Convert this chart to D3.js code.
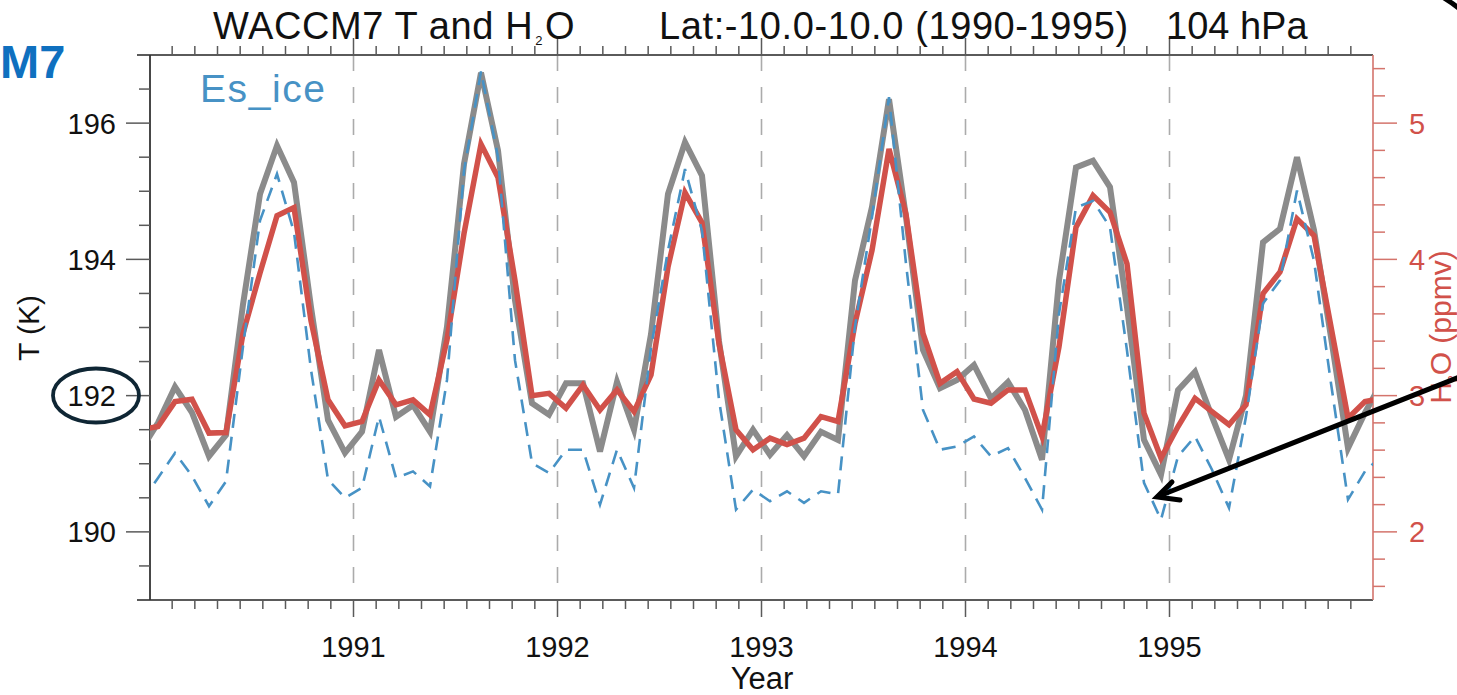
<!DOCTYPE html>
<html>
<head>
<meta charset="utf-8">
<script src="https://cdn.jsdelivr.net/npm/d3@7"></script>
<style>
  html, body { margin: 0; padding: 0; background: #fff; }
  svg { display: block; font-family: "Liberation Sans", Arial, Helvetica, sans-serif; }
</style>
</head>
<body>
<svg id="chart" width="1457" height="695"></svg>
<script>
// ===== monthly series, Dec 1989 .. Jan 1996 (mid-month), clipped to 1990-1996 =====
var monthIndex = d3.range(-1, 73);

// Temperature (K), grey
var tempK = [
  191.2, 191.6, 192.13, 191.75, 191.11, 191.42, 193.34, 194.96, 195.67, 195.13, 193.3, 191.64, 191.16,
  191.47, 192.67, 191.69, 191.86, 191.47, 193.01, 195.40, 196.74, 195.6, 193.4, 191.89, 191.72,
  192.18, 192.18, 191.18, 192.2, 191.5, 192.9, 194.96, 195.72, 195.23, 192.8, 191.11, 191.5,
  191.13, 191.42, 191.11, 191.47, 191.35, 193.69, 194.77, 196.35, 194.62, 192.67, 192.11, 192.23,
  192.45, 191.96, 192.2, 191.79, 191.06, 193.69, 195.35, 195.45, 195.06, 193.3, 191.35, 190.84,
  192.08, 192.35, 191.69, 191.06, 192.0, 194.25, 194.45, 195.5, 194.43, 192.86, 191.23, 191.75,
  192.2
];

// Water vapour (ppmv), red
var h2oPpmv = [
  2.75, 2.773, 2.956, 2.974, 2.725, 2.729, 3.456, 3.90, 4.32, 4.38, 3.55, 2.969, 2.778,
  2.81, 3.115, 2.932, 2.969, 2.859, 3.41, 4.19, 4.846, 4.60, 3.846, 3.00, 3.017,
  2.908, 3.078, 2.895, 3.042, 2.883, 3.151, 3.944, 4.49, 4.27, 3.383, 2.749, 2.603,
  2.688, 2.64, 2.688, 2.846, 2.81, 3.53, 4.066, 4.81, 4.33, 3.456, 3.09, 3.176,
  2.975, 2.944, 3.042, 3.042, 2.70, 3.358, 4.236, 4.468, 4.346, 3.968, 2.871, 2.542,
  2.773, 2.981, 2.883, 2.786, 2.932, 3.749, 3.907, 4.298, 4.175, 3.505, 2.835, 2.956,
  2.98
];

// Saturation mixing ratio over ice (ppmv), blue dashed
var esIce = [
  2.22, 2.396, 2.579, 2.41, 2.188, 2.371, 3.36, 4.285, 4.627, 4.2, 3.19, 2.383, 2.25,
  2.323, 2.846, 2.396, 2.444, 2.334, 3.115, 4.65, 5.38, 4.75, 3.26, 2.505, 2.432,
  2.603, 2.603, 2.20, 2.603, 2.323, 3.35, 4.066, 4.663, 4.21, 2.97, 2.164, 2.31,
  2.225, 2.298, 2.213, 2.298, 2.274, 3.505, 4.31, 5.19, 3.968, 2.895, 2.603, 2.627,
  2.70, 2.554, 2.615, 2.396, 2.164, 3.6, 4.38, 4.43, 4.236, 3.33, 2.36, 2.09,
  2.554, 2.70, 2.456, 2.176, 2.846, 3.676, 3.846, 4.505, 3.99, 3.09, 2.237, 2.444,
  2.56
];

var yearTicks = [1991, 1992, 1993, 1994, 1995];
var tempTicks = [190, 192, 194, 196];
var h2oTicks = [2, 3, 4, 5];

var COLOURS = {
  temp: "#8b8b8b",
  h2o: "#d1514a",
  ice: "#4792c5",
  rightAxis: "#d4746c",
  grid: "#ababab",
  axis: "#5a5a5a"
};

var svg = d3.select("#chart");
var margin = { left: 150, right: 1373, top: 55, bottom: 600 };

var x = d3.scaleLinear().domain([1990, 1996]).range([149.5, 1373.5]);
var yT = d3.scaleLinear().domain([189, 197]).range([600, 55]);
var yH = d3.scaleLinear().domain([1.5, 5.5]).range([600, 55]);

function monthX(i) { return 1990 + (i + 0.5) / 12; }

svg.append("defs").append("clipPath").attr("id", "plot-clip")
  .append("rect")
  .attr("x", margin.left).attr("y", margin.top)
  .attr("width", margin.right - margin.left).attr("height", margin.bottom - margin.top);

// Year grid (dashed)
svg.append("g").selectAll("line")
  .data(yearTicks)
  .join("line")
  .attr("x1", function(d) { return x(d); }).attr("x2", function(d) { return x(d); })
  .attr("y1", margin.top).attr("y2", margin.bottom)
  .attr("stroke", COLOURS.grid).attr("stroke-width", 1.6)
  .attr("stroke-dasharray", "16,16");

// Minor x ticks: 9 subdivisions per year (as in the original)
var xMinor = [];
d3.range(1990, 1996).forEach(function(yr) {
  d3.range(1, 9).forEach(function(k) { xMinor.push(yr + k / 9); });
});

var axes = svg.append("g");

// bottom axis
axes.append("line").attr("x1", 137).attr("x2", margin.right).attr("y1", margin.bottom).attr("y2", margin.bottom)
  .attr("stroke", COLOURS.axis).attr("stroke-width", 1.8);
axes.selectAll(".xb-minor").data(xMinor).join("line")
  .attr("x1", function(d) { return x(d); }).attr("x2", function(d) { return x(d); })
  .attr("y1", margin.bottom).attr("y2", margin.bottom + 9)
  .attr("stroke", COLOURS.axis).attr("stroke-width", 1.5);
axes.selectAll(".xb-major").data(yearTicks).join("line")
  .attr("x1", function(d) { return x(d); }).attr("x2", function(d) { return x(d); })
  .attr("y1", margin.bottom).attr("y2", margin.bottom + 17)
  .attr("stroke", COLOURS.axis).attr("stroke-width", 1.5);
axes.selectAll(".xb-label").data(yearTicks).join("text")
  .attr("x", function(d) { return x(d); }).attr("y", 657)
  .attr("text-anchor", "middle").attr("font-size", 29).attr("fill", "#111")
  .text(function(d) { return d; });

// top axis
axes.append("line").attr("x1", 137).attr("x2", margin.right).attr("y1", margin.top).attr("y2", margin.top)
  .attr("stroke", COLOURS.axis).attr("stroke-width", 1.8);
axes.selectAll(".xt-minor").data(xMinor).join("line")
  .attr("x1", function(d) { return x(d); }).attr("x2", function(d) { return x(d); })
  .attr("y1", margin.top).attr("y2", margin.top - 9)
  .attr("stroke", COLOURS.axis).attr("stroke-width", 1.5);
axes.selectAll(".xt-major").data(yearTicks).join("line")
  .attr("x1", function(d) { return x(d); }).attr("x2", function(d) { return x(d); })
  .attr("y1", margin.top).attr("y2", margin.top - 17)
  .attr("stroke", COLOURS.axis).attr("stroke-width", 1.5);

// left axis (T)
axes.append("line").attr("x1", margin.left).attr("x2", margin.left).attr("y1", margin.top).attr("y2", margin.bottom)
  .attr("stroke", "#333").attr("stroke-width", 1.8);
var tMinor = d3.range(189.5, 197, 0.5).filter(function(v) { return tempTicks.indexOf(v) < 0; });
axes.selectAll(".yl-minor").data(tMinor).join("line")
  .attr("x1", margin.left - 11).attr("x2", margin.left)
  .attr("y1", function(d) { return yT(d); }).attr("y2", function(d) { return yT(d); })
  .attr("stroke", COLOURS.axis).attr("stroke-width", 1.5);
axes.selectAll(".yl-major").data(tempTicks).join("line")
  .attr("x1", margin.left - 24).attr("x2", margin.left)
  .attr("y1", function(d) { return yT(d); }).attr("y2", function(d) { return yT(d); })
  .attr("stroke", COLOURS.axis).attr("stroke-width", 1.5);
axes.selectAll(".yl-label").data(tempTicks).join("text")
  .attr("x", 116).attr("y", function(d) { return yT(d); }).attr("dy", "0.36em")
  .attr("text-anchor", "end").attr("font-size", 29).attr("fill", "#111")
  .text(function(d) { return d; });

// right axis (H2O)
axes.append("line").attr("x1", margin.right).attr("x2", margin.right).attr("y1", margin.top).attr("y2", margin.bottom)
  .attr("stroke", COLOURS.rightAxis).attr("stroke-width", 1.6);
var hMinor = d3.range(16, 55, 2).map(function(v) { return v / 10; })
  .filter(function(v) { return h2oTicks.indexOf(v) < 0; });
axes.selectAll(".yr-minor").data(hMinor).join("line")
  .attr("x1", margin.right).attr("x2", margin.right + 12)
  .attr("y1", function(d) { return yH(d); }).attr("y2", function(d) { return yH(d); })
  .attr("stroke", COLOURS.rightAxis).attr("stroke-width", 1.5);
axes.selectAll(".yr-major").data(h2oTicks).join("line")
  .attr("x1", margin.right).attr("x2", margin.right + 24)
  .attr("y1", function(d) { return yH(d); }).attr("y2", function(d) { return yH(d); })
  .attr("stroke", COLOURS.rightAxis).attr("stroke-width", 1.5);
axes.selectAll(".yr-label").data(h2oTicks).join("text")
  .attr("x", 1409).attr("y", function(d) { return yH(d); }).attr("dy", "0.36em")
  .attr("font-size", 29).attr("fill", COLOURS.h2o)
  .text(function(d) { return d; });

// ===== series =====
var lines = svg.append("g").attr("clip-path", "url(#plot-clip)");

var tempLine = d3.line()
  .x(function(d, i) { return x(monthX(monthIndex[i])); })
  .y(function(d) { return yT(d); });
var h2oLine = d3.line()
  .x(function(d, i) { return x(monthX(monthIndex[i])); })
  .y(function(d) { return yH(d); });

lines.append("path").datum(tempK)
  .attr("d", tempLine).attr("fill", "none")
  .attr("stroke", COLOURS.temp).attr("stroke-width", 6).attr("stroke-linejoin", "miter");

lines.append("path").datum(h2oPpmv)
  .attr("d", h2oLine).attr("fill", "none")
  .attr("stroke", COLOURS.h2o).attr("stroke-width", 5.5).attr("stroke-linejoin", "miter");

lines.append("path").datum(esIce)
  .attr("d", h2oLine).attr("fill", "none")
  .attr("stroke", COLOURS.ice).attr("stroke-width", 2.6)
  .attr("stroke-dasharray", "14,9");

// ===== text =====
var title = svg.append("g").attr("font-size", 38).attr("fill", "#111");
var t1 = title.append("text").attr("x", 213).attr("y", 39).attr("letter-spacing", 0.6);
t1.append("tspan").text("WACCM7 T and H");
t1.append("tspan").attr("font-size", 13).attr("dx", 2).attr("dy", 6).text("2");
t1.append("tspan").attr("dx", 2).attr("dy", -6).text("O");
title.append("text").attr("x", 659).attr("y", 39).attr("letter-spacing", 0.6)
  .text("Lat:-10.0-10.0 (1990-1995)");
title.append("text").attr("x", 1166).attr("y", 39).text("104 hPa");

svg.append("text").attr("x", 200).attr("y", 102).attr("letter-spacing", 1.6)
  .attr("font-size", 39).attr("fill", COLOURS.ice).text("Es_ice");

svg.append("text").attr("x", 0).attr("y", 78)
  .attr("font-size", 47).attr("font-weight", "bold").attr("fill", "#0f70bf").text("M7");

svg.append("text").attr("x", 762).attr("y", 689)
  .attr("text-anchor", "middle").attr("font-size", 31).attr("fill", "#111").text("Year");

svg.append("text").attr("transform", "translate(39,328) rotate(-90)")
  .attr("text-anchor", "middle").attr("font-size", 30).attr("fill", "#111").text("T (K)");

var rl = svg.append("text").attr("transform", "translate(1451,327) rotate(-90)")
  .attr("text-anchor", "middle").attr("font-size", 30).attr("fill", COLOURS.h2o);
rl.append("tspan").text("H");
rl.append("tspan").attr("font-size", 12).attr("dy", 6).text("2");
rl.append("tspan").attr("dy", -6).text("O (ppmv)");

// ===== annotations =====
svg.append("ellipse").attr("cx", 96).attr("cy", 395.5).attr("rx", 43).attr("ry", 27)
  .attr("fill", "none").attr("stroke", "#0f2634").attr("stroke-width", 3.8);

var arrow = svg.append("g").attr("stroke", "#000").attr("stroke-width", 5).attr("fill", "none")
  .attr("stroke-linecap", "round");
arrow.append("line").attr("x1", 1462).attr("y1", 376).attr("x2", 1159).attr("y2", 496);
arrow.append("path").attr("d", "M1172,482 L1157,497 L1180,500");

svg.append("path").attr("d", "M1444,-2 Q1452,3 1460,9")
  .attr("fill", "none").attr("stroke", "#000").attr("stroke-width", 5);
</script>
</body>
</html>
